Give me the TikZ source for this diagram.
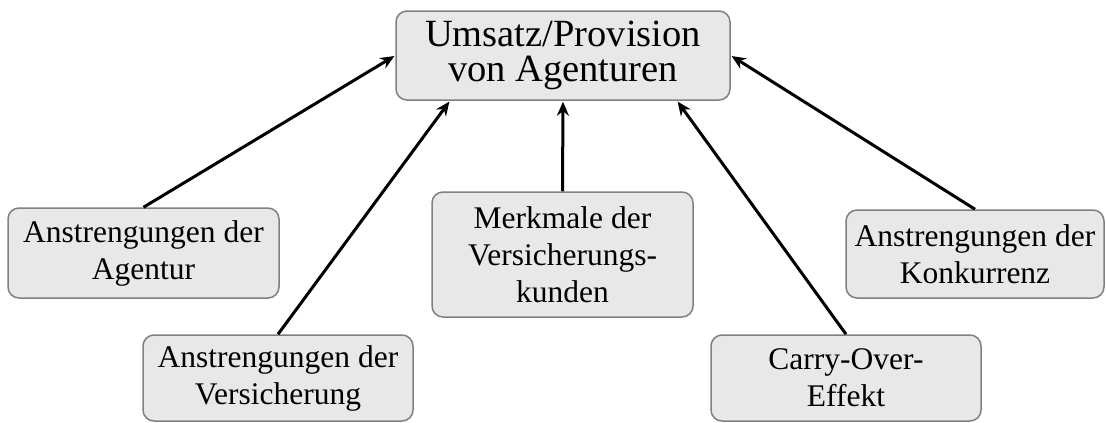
\documentclass[tikz,border=0pt]{standalone}
\usepackage{fontspec}
\setmainfont{Liberation Serif}
\usetikzlibrary{calc,arrows.meta}
\definecolor{boxfill}{RGB}{232,232,232}
\definecolor{boxline}{RGB}{128,128,128}
\tikzset{
  box/.style={draw=boxline, fill=boxfill, line width=1.5pt, rounded corners=11pt,
    inner sep=0pt, align=center, font=\fontsize{31.5}{37}\selectfont},
  bigbox/.style={box, font=\fontsize{38.5}{35}\selectfont},
  arr/.style={-{Stealth[length=14pt,width=12pt]}, line width=3pt, black, shorten >=1pt}
}
\begin{document}
\begin{tikzpicture}[x=1pt,y=-1pt]
\useasboundingbox (0,0) rectangle (1106,423);
\node[bigbox, minimum width=334pt, minimum height=89pt] (top) at (563,55.5) {Umsatz/Provision\\von Agenturen};
\node[box, minimum width=271pt, minimum height=90pt] (agentur) at (143.5,253) {Anstrengungen der\\Agentur};
\node[box, minimum width=270pt, minimum height=86pt] (versich) at (278,378) {Anstrengungen der\\Versicherung};
\node[box, minimum width=261pt, minimum height=125pt] (merkmale) at (562.5,254.5) {Merkmale der\\Versicherungs-\\kunden};
\node[box, minimum width=270pt, minimum height=86pt] (carry) at (846,378) {Carry-Over-\\Effekt};
\node[box, minimum width=258pt, minimum height=88pt] (konk) at (975,254) {Anstrengungen der\\Konkurrenz};
\coordinate (tl) at ($(top.south)+(-113,0)$);
\coordinate (tr) at ($(top.south)+(114,0)$);
\draw[arr] (agentur.north) -- (top.west);
\draw[arr] (versich.north) -- (tl);
\draw[arr] (merkmale.north) -- (top.south);
\draw[arr] (carry.north) -- (tr);
\draw[arr] (konk.north) -- (top.east);
\end{tikzpicture}
\end{document}
